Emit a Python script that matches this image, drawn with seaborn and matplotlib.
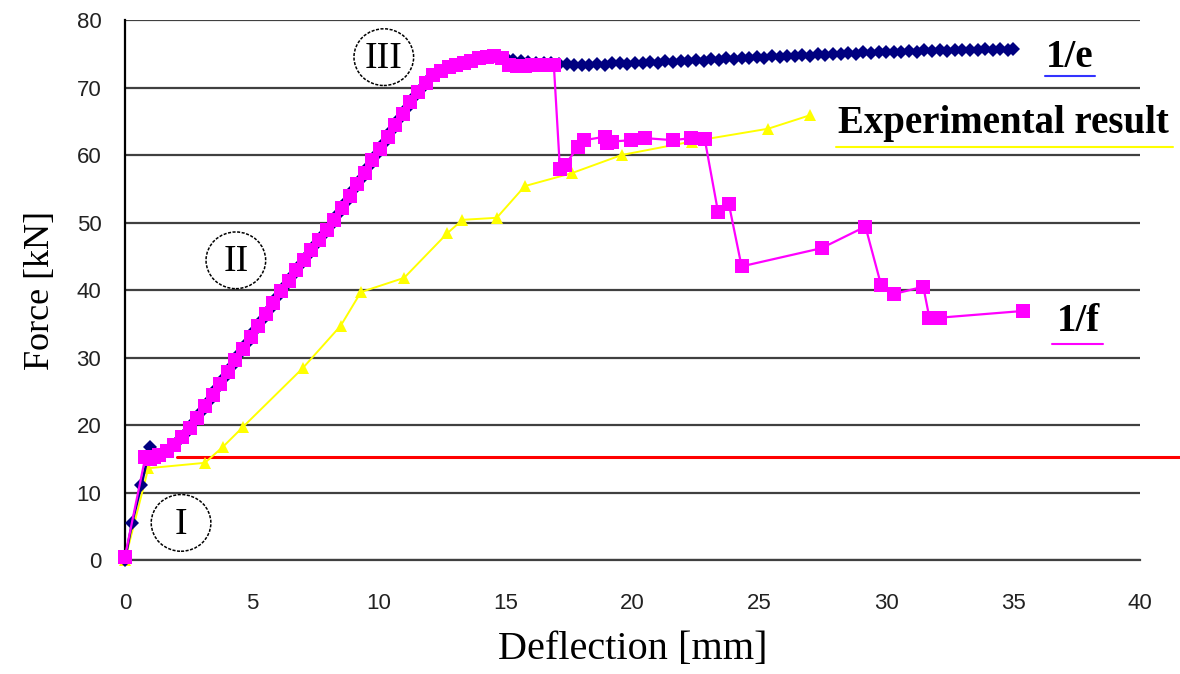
import matplotlib
matplotlib.use("Agg")
import matplotlib.pyplot as plt
from matplotlib.patches import Ellipse
import seaborn as sns

# series 1/e (navy diamonds)
e_x = [0, 0.28, 0.65, 0.99, 1.2, 1.5, 1.8, 2.1, 2.4, 2.7, 3.0, 3.3, 3.6, 3.9, 4.2, 4.5,
       4.8, 5.1, 5.4, 5.7, 6.0, 6.3, 6.6, 6.9, 7.2, 7.5, 7.8, 8.1, 8.4, 8.7, 9.0, 9.3,
       9.6, 9.9, 10.2, 10.5, 10.8, 11.1, 11.4, 11.7, 12.0, 12.3, 12.6, 12.9, 13.2, 13.5,
       13.8, 14.1, 14.4, 14.7, 15.0, 15.3, 15.6, 15.9, 16.2, 16.5, 16.8, 17.1, 17.4, 17.7,
       18.0, 18.3, 18.6, 18.9, 19.2, 19.5, 19.8, 20.1, 20.4, 20.7, 21.0, 21.3, 21.6, 21.9,
       22.2, 22.5, 22.8, 23.1, 23.4, 23.7, 24.0, 24.3, 24.6, 24.9, 25.2, 25.5, 25.8, 26.1,
       26.4, 26.7, 27.0, 27.3, 27.6, 27.9, 28.2, 28.5, 28.8, 29.1, 29.4, 29.7, 30.0, 30.3,
       30.6, 30.9, 31.2, 31.5, 31.8, 32.1, 32.4, 32.7, 33.0, 33.3, 33.6, 33.9, 34.2, 34.5,
       34.8, 35.0]
e_y = [0, 5.5, 11.1, 16.7, 15.3, 15.9, 16.6, 17.6, 18.8, 20.3, 22.0, 23.6, 25.3, 27.0, 28.8, 30.5,
       32.2, 33.9, 35.5, 37.2, 39.0, 40.6, 42.1, 43.7, 45.2, 46.6, 48.1, 49.6, 51.2, 53.0, 54.8, 56.5,
       58.3, 60.0, 61.8, 63.5, 65.3, 67.0, 68.6, 70.0, 71.3, 72.2, 72.8, 73.2, 73.6, 73.9,
       74.2, 74.4, 74.6, 74.7, 74.4, 74.1, 73.9, 73.8, 73.7, 73.7, 73.6, 73.5, 73.5, 73.4,
       73.3, 73.4, 73.5, 73.4, 73.6, 73.6, 73.5, 73.7, 73.6, 73.8, 73.7, 73.9, 73.8, 74.0,
       73.9, 74.1, 74.0, 74.2, 74.1, 74.3, 74.2, 74.4, 74.3, 74.5, 74.4, 74.6, 74.5, 74.7,
       74.6, 74.8, 74.7, 74.9, 74.8, 75.0, 74.9, 75.1, 75.0, 75.2, 75.1, 75.3, 75.2, 75.3,
       75.2, 75.4, 75.3, 75.5, 75.4, 75.5, 75.4, 75.6, 75.5, 75.6, 75.5, 75.7, 75.6, 75.7,
       75.6, 75.7]

# series 1/f (magenta squares)
f_x = [0, 0.8, 1.0, 1.15, 1.35, 1.65, 1.95, 2.25, 2.55, 2.85, 3.15, 3.45, 3.75, 4.05, 4.35,
       4.65, 4.95, 5.25, 5.55, 5.85, 6.15, 6.45, 6.75, 7.05, 7.35, 7.65, 7.95, 8.25, 8.55,
       8.85, 9.15, 9.45, 9.75, 10.05, 10.35, 10.65, 10.95, 11.25, 11.55, 11.85, 12.15, 12.45,
       12.75, 13.05, 13.35, 13.65, 13.95, 14.25, 14.55, 14.85, 15.15, 15.45, 15.75, 16.05,
       16.35, 16.65, 16.9, 17.14, 17.34, 17.85, 18.1, 18.9, 19.0, 19.2, 19.95, 20.5, 21.6,
       22.3, 22.85, 23.37, 23.8, 24.3, 27.45, 29.18, 29.8, 30.3, 31.46, 31.7, 32.1, 35.4]
f_y = [0.5, 15.2, 15.0, 15.3, 15.6, 16.2, 17.1, 18.2, 19.5, 21.1, 22.8, 24.4, 26.1, 27.9, 29.6,
       31.3, 33.0, 34.7, 36.4, 38.1, 39.8, 41.4, 42.9, 44.4, 45.9, 47.4, 48.9, 50.4, 52.1,
       53.9, 55.7, 57.4, 59.2, 60.9, 62.7, 64.4, 66.1, 67.8, 69.3, 70.7, 71.8, 72.5,
       73.0, 73.4, 73.7, 74.0, 74.3, 74.5, 74.7, 74.3, 73.4, 73.2, 73.2, 73.3,
       73.3, 73.4, 73.4, 58.0, 58.5, 61.2, 62.2, 62.7, 61.8, 62.0, 62.2, 62.5, 62.2,
       62.5, 62.3, 51.6, 52.7, 43.5, 46.2, 49.4, 40.7, 39.4, 40.5, 35.9, 35.9, 36.9]

# experimental result (yellow triangles)
exp_x = [0, 0.92, 3.15, 3.87, 4.66, 7.0, 8.5, 9.3, 11.0, 12.7, 13.3, 14.65, 15.76, 17.6,
         19.57, 22.33, 25.35, 27.0]
exp_y = [0, 13.6, 14.4, 16.8, 19.75, 28.4, 34.7, 39.7, 41.8, 48.4, 50.4, 50.7, 55.4, 57.3,
         60.0, 62.0, 63.9, 65.9]

red_level = 15.3

sns.set_style("white")
plt.rcParams["font.family"] = ["Liberation Sans", "DejaVu Sans"]
plt.rcParams["text.color"] = "black"
plt.rcParams["axes.labelcolor"] = "black"

fig = plt.figure(figsize=(11.8, 6.74), dpi=100)
ax = fig.add_axes([0.1059, 0.1691, 0.8602, 0.8012])

ax.plot([2.05, 41.6], [red_level, red_level], color="#ff0000", lw=2.2, clip_on=False, zorder=2)

sns.lineplot(x=exp_x, y=exp_y, ax=ax, color="#ffff00", marker="^", markersize=9,
             markeredgewidth=0, linewidth=1.4, sort=False, estimator=None, zorder=3,
             clip_on=False)
sns.lineplot(x=e_x, y=e_y, ax=ax, color="#000080", marker="D", markersize=7,
             markeredgewidth=0, linewidth=1.8, sort=False, estimator=None, zorder=4,
             clip_on=False)
sns.lineplot(x=f_x, y=f_y, ax=ax, color="#ff00ff", marker="s", markersize=9.5,
             markeredgewidth=0, linewidth=1.6, sort=False, estimator=None, zorder=5,
             clip_on=False)

ax.set_xlim(0, 40)
ax.set_ylim(0, 80)
ax.set_xticks(range(0, 41, 5))
ax.set_yticks(range(0, 81, 10))
ax.yaxis.grid(True, color="#404040", lw=1.6)
ax.set_axisbelow(True)
for s in ["top", "right"]:
    ax.spines[s].set_visible(False)
ax.spines["left"].set_color("black")
ax.spines["left"].set_linewidth(1.6)
ax.spines["bottom"].set_color("#404040")
ax.spines["bottom"].set_linewidth(1.6)
ax.tick_params(axis="both", direction="out", length=7, width=1.4, color="black",
               labelsize=16, labelcolor="#222222")
ax.tick_params(axis="x", pad=17)
ax.tick_params(axis="y", pad=10)

serif = ["Liberation Serif", "DejaVu Serif"]
ax.set_xlabel("Deflection [mm]", fontsize=29, family=serif, labelpad=12)
ax.set_ylabel("Force [kN]", fontsize=26, family=serif, labelpad=14)

# curve labels with coloured underlines
ax.text(37.24, 74.4, "1/e", fontsize=28, fontweight="bold", family=serif,
        ha="center", va="center", clip_on=False)
ax.plot([36.26, 38.23], [71.7, 71.7], color="#3333ff", lw=1.5, clip_on=False)
ax.text(34.6, 64.6, "Experimental result", fontsize=28, fontweight="bold", family=serif,
        ha="center", va="center", clip_on=False)
ax.plot([28.02, 41.3], [61.2, 61.2], color="#ffff00", lw=1.5, clip_on=False)
ax.text(37.56, 35.4, "1/f", fontsize=28, fontweight="bold", family=serif,
        ha="center", va="center", clip_on=False)
ax.plot([36.53, 38.54], [32.0, 32.0], color="#ff00ff", lw=1.5, clip_on=False)

# circled stage numbers
for cx, cy, lab in [(2.21, 5.5, "I"), (4.37, 44.4, "II"), (10.2, 74.5, "III")]:
    ax.add_patch(Ellipse((cx, cy), 2.35, 8.4, fill=False, ec="black", lw=1.1, ls=(0, (2, 1)),
                         zorder=6))
    ax.text(cx, cy - 0.2, lab, fontsize=27, family=serif, ha="center", va="center", zorder=6)

fig.savefig("out.png", dpi=100)
